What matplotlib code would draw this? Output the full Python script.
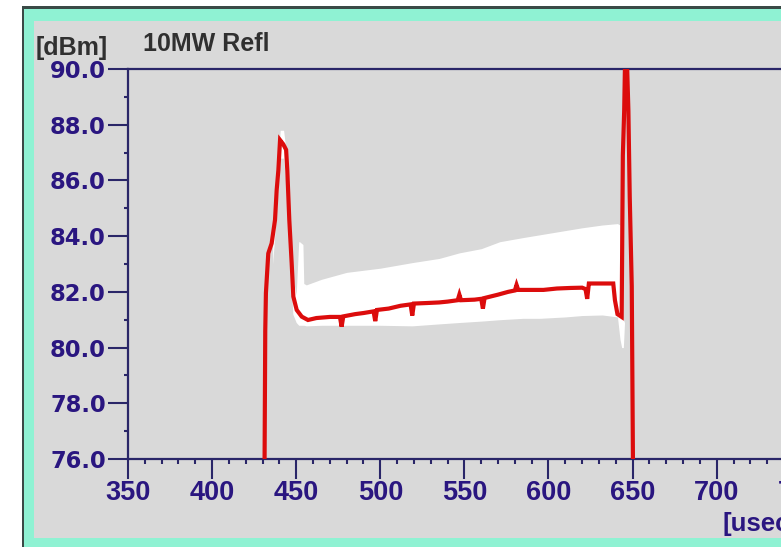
import matplotlib
matplotlib.use("Agg")
import matplotlib.pyplot as plt
from matplotlib.patches import Rectangle
from matplotlib.ticker import MultipleLocator, FormatStrFormatter

# ---------------- data ----------------
title_unit = "[dBm]"
title_text = "10MW Refl"
x_unit = "[usec]"

# red trace
red_x = [425, 431.2, 431.6, 432, 433.4, 435.4, 437.4, 438.4, 439.4, 440.4, 442.3, 444.0,
         444.7, 445.9, 447.3, 448.3, 450.3, 453.3, 457, 462, 470, 476, 477, 478, 485,
         490, 496, 497, 498, 505, 512, 518, 519, 520, 528, 535, 540, 546, 547, 548,
         556, 560, 561, 562, 570, 576, 580, 581, 582, 590, 597, 605, 613, 620, 622,
         623, 624, 625, 632, 638.5, 639.5, 641, 643.5, 644.2, 645.0, 645.6, 646.5,
         647.5, 648.3, 649.5, 650.2, 655]
red_y = [70, 76, 80.6, 81.96, 83.38, 83.74, 84.58, 85.66, 86.37, 87.45, 87.3, 87.1,
         86.37, 84.58, 83.04, 81.83, 81.35, 81.11, 80.99, 81.06, 81.1, 81.1, 80.75, 81.12, 81.2,
         81.24, 81.3, 80.95, 81.35, 81.4, 81.5, 81.55, 81.15, 81.58, 81.6, 81.62, 81.65, 81.7, 81.9, 81.7,
         81.72, 81.75, 81.4, 81.78, 81.9, 82.0, 82.05, 82.25, 82.07, 82.07, 82.07, 82.12, 82.14, 82.15, 82.1,
         81.75, 82.3, 82.3, 82.3, 82.3, 81.7, 81.2, 81.1, 86.9, 88.5, 90.6, 90.6,
         88.5, 85.4, 82.2, 76, 70]

# white min/max envelope
env_x = [436, 439, 440.5, 442.5, 444.5, 446, 448, 450, 451.5, 452, 454, 454.5, 456, 465,
         480, 500, 519, 535, 547, 560, 571, 585, 595, 610, 620, 632, 641, 642.5, 643.5, 644.5, 645.2]
env_hi = [84.2, 86.5, 87.8, 87.8, 86.8, 84.6, 82.5, 81.9, 83.8, 83.8, 83.7, 82.3, 82.25, 82.45,
          82.7, 82.85, 83.05, 83.2, 83.4, 83.55, 83.8, 83.95, 84.05, 84.2, 84.3, 84.4, 84.45, 84.4, 81.2, 81.0, 80.9]
env_lo = [83.0, 85.5, 86.8, 86.8, 85.5, 83.5, 81.2, 80.9, 80.8, 80.8, 80.8, 80.8, 80.78, 80.8,
          80.8, 80.8, 80.78, 80.85, 80.9, 80.95, 81.0, 81.05, 81.05, 81.1, 81.15, 81.17, 81.1, 80.3, 80.0, 80.0, 80.9]

x_range = (350, 800)
y_range = (76.0, 90.0)

# ---------------- figure ----------------
W, H = 781, 547
fig = plt.figure(figsize=(W / 100, H / 100), dpi=100)
fig.patch.set_facecolor("white")

AQUA = "#8ff2d3"
GRAY = "#d9d9d9"
NAVY = "#2a2668"
LABEL = "#2a1680"
TITLE = "#303030"


def prect(x0, y0, x1, y1, color, z=0):
    fig.add_artist(Rectangle((x0 / W, 1 - y1 / H), (x1 - x0) / W, (y1 - y0) / H,
                             transform=fig.transFigure, facecolor=color,
                             edgecolor="none", zorder=z))


prect(22, 6, W + 5, H + 5, "#3a4a46", 0)     # thin dark outline
prect(24, 9, W + 5, H + 5, AQUA, 0.1)         # aqua frame
prect(34, 21, W + 5, 538, GRAY, 0.2)          # gray panel

ax_left, ax_top, ax_bottom = 128, 69, 459
ax_w_px = (x_range[1] - x_range[0]) * 1.682
ax = fig.add_axes([ax_left / W, 1 - ax_bottom / H, ax_w_px / W, (ax_bottom - ax_top) / H])
ax.set_zorder(1)
ax.set_facecolor(GRAY)

ax.fill_between(env_x, env_lo, env_hi, color="white", lw=0, zorder=1)
ax.plot(red_x, red_y, color="#dc0c0c", lw=3.0, zorder=3, solid_joinstyle="miter")

ax.set_xlim(*x_range)
ax.set_ylim(*y_range)

for s in ["left", "top", "bottom"]:
    ax.spines[s].set_color(NAVY)
    ax.spines[s].set_linewidth(1.6)
ax.spines["right"].set_visible(False)

ax.xaxis.set_major_locator(MultipleLocator(50))
ax.xaxis.set_minor_locator(MultipleLocator(10))
ax.yaxis.set_major_locator(MultipleLocator(2))
ax.yaxis.set_minor_locator(MultipleLocator(1))
ax.yaxis.set_major_formatter(FormatStrFormatter("%.1f"))

ax.tick_params(axis="y", which="major", direction="out", length=14.4, width=1.5,
               color=NAVY, pad=1.5, labelcolor=LABEL)
ax.tick_params(axis="y", which="minor", direction="out", length=3, width=1.5, color=NAVY)
ax.tick_params(axis="x", which="major", direction="out", length=14.4, width=1.5,
               color=NAVY, pad=1, labelcolor=LABEL)
ax.tick_params(axis="x", which="minor", direction="out", length=3.6, width=1.5, color=NAVY)

for lab in ax.get_yticklabels():
    lab.set_fontfamily("DejaVu Sans")
    lab.set_fontweight("bold")
    lab.set_fontsize(16.3)
for lab in ax.get_xticklabels():
    lab.set_fontfamily("Liberation Sans")
    lab.set_fontweight("bold")
    lab.set_fontsize(19.5)

fig.text(36 / W, 1 - 55 / H, title_unit, family="Liberation Sans", weight="bold",
         fontsize=18, color=TITLE, va="baseline", ha="left", zorder=5)
fig.text(143 / W, 1 - 51 / H, title_text, family="Liberation Sans", weight="bold",
         fontsize=18, color=TITLE, va="baseline", ha="left", zorder=5)
fig.text(723 / W, 1 - 531 / H, x_unit, family="Liberation Sans", weight="bold",
         fontsize=18.5, color=LABEL, va="baseline", ha="left", zorder=5)

fig.savefig("out.png", dpi=100)
